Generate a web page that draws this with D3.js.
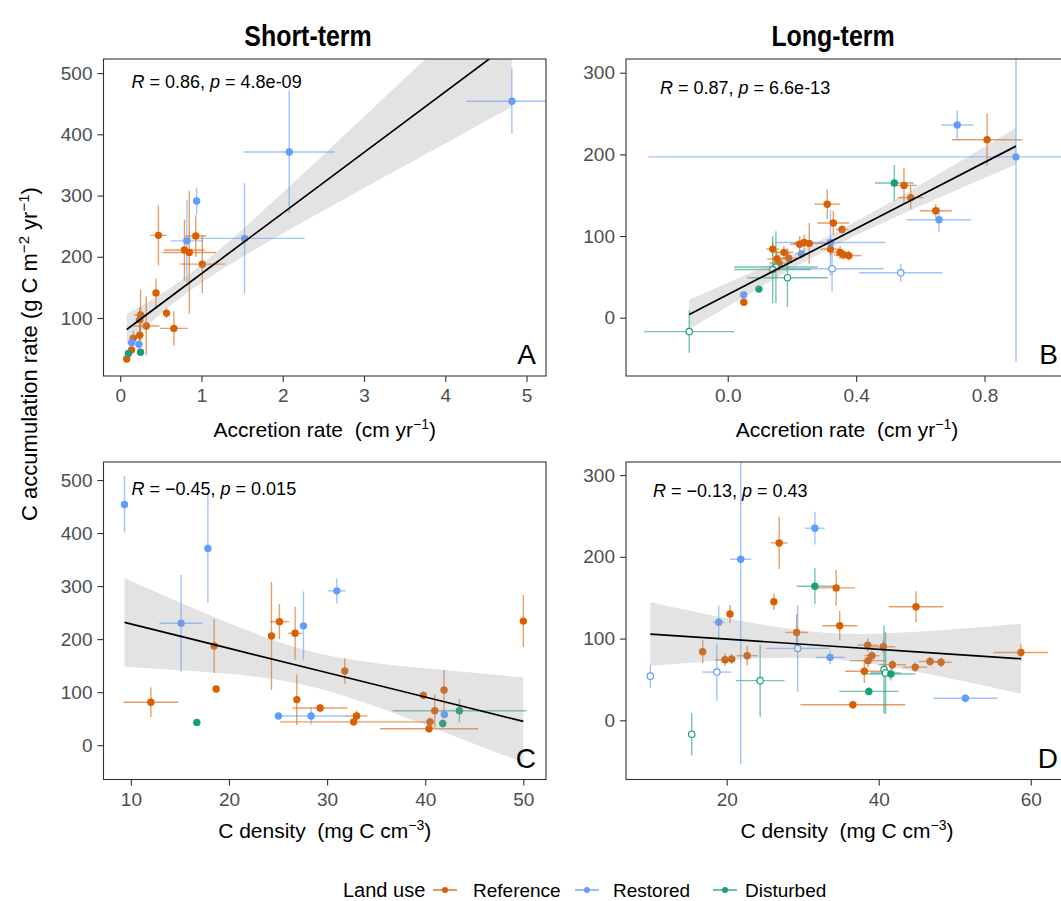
<!DOCTYPE html>
<html>
<head>
<meta charset="utf-8">
<script src="https://cdn.jsdelivr.net/npm/d3@7"></script>
<style>
  body { margin: 0; background: #fff; }
  svg { font-family: "Liberation Sans", Arial, sans-serif; }
  .pre { white-space: pre; }
</style>
</head>
<body>
<div id="chart"></div>
<script>
// Land use groups: 0 = Reference, 1 = Restored, 2 = Disturbed
const landUse = ['Reference', 'Restored', 'Disturbed'];
const landColors = ['#d95f02', '#619cff', '#1b9e77'];

// Panel A: short-term accretion rate vs C accumulation rate
const aX = [4.82, 2.08, 1.53, 0.94, 0.82, 0.47, 0.93, 0.79, 0.85, 1.01, 0.44, 0.57, 0.66, 0.25, 0.32, 0.24, 0.24, 0.16, 0.08, 0.14, 0.14, 0.23, 0.10, 0.25];
const aY = [454, 371, 230, 291, 226, 235, 234, 211, 207, 188, 141, 108, 83, 105, 87, 97, 72, 67, 33, 48, 60, 57, 42, 44];
const aXerr = [0.56, 0.56, 0.74, 0.03, 0.2, 0.1, 0.13, 0.25, 0.33, 0.28, 0.03, 0.03, 0.17, 0.08, 0.16, 0.05, 0.05, 0.04, 0.03, 0.04, 0.04, 0.03, 0.02, 0.02];
const aYerr = [53, 100, 90, 22, 67, 49, 34, 50, 100, 47, 23, 8, 28, 42, 48, 20, 15, 12, 5, 8, 10, 8, 4, 4];
const aGroup = [1, 1, 1, 1, 1, 0, 0, 0, 0, 0, 0, 0, 0, 0, 0, 0, 0, 0, 0, 0, 1, 1, 2, 2];
const aFitX = [0.08, 0.85, 2, 3.5, 4.82];
const aFitY = [81.3, 157.6, 271.4, 419.9, 550.6];
const aFitLo = [56, 143.6, 238, 348.6, 445];
const aFitHi = [107, 171.6, 304.8, 491.2, 656];

// Panel B: long-term accretion rate vs C accumulation rate
const bX = [0.715, 0.808, 0.898, 0.519, 0.549, 0.57, 0.648, 0.658, 0.31, 0.329, 0.356, 0.224, 0.238, 0.254, 0.32, 0.32, 0.35, 0.36, 0.377, 0.14, 0.175, 0.19, 0.153, 0.16, 0.23, 0.325, 0.539, 0.15, 0.14, 0.186, 0.097, 0.05, 0.05, -0.12];
const bY = [236, 218, 197, 165, 162, 147, 131, 120, 139, 116, 108, 90, 92, 91, 92, 84, 80, 77, 76, 84, 80, 73, 72, 67, 78, 60, 55, 62, 59, 49, 35, 28, 19, -17];
const bXerr = [0.05, 0.11, 1.145, 0.06, 0.04, 0.04, 0.05, 0.1, 0.04, 0.05, 0.02, 0.03, 0.03, 0.05, 0.17, 0.03, 0.03, 0.03, 0.04, 0.02, 0.03, 0.04, 0.03, 0.03, 0.02, 0.16, 0.13, 0.13, 0.12, 0.125, 0.01, 0.01, 0.01, 0.14];
const bYerr = [18, 32, 251, 22, 22, 14, 8, 15, 18, 15, 5, 10, 10, 25, 40, 8, 8, 6, 6, 8, 8, 8, 10, 10, 5, 28, 11, 44, 41, 36, 4, 4, 4, 26];
const bGroup = [1, 0, 1, 2, 0, 0, 0, 1, 0, 0, 0, 0, 0, 0, 1, 0, 0, 0, 0, 0, 0, 0, 0, 0, 1, 1, 1, 2, 2, 2, 2, 1, 0, 2];
const bOpen = [0, 0, 0, 0, 0, 0, 0, 0, 0, 0, 0, 0, 0, 0, 0, 0, 0, 0, 0, 0, 0, 0, 0, 0, 0, 1, 1, 1, 1, 1, 0, 0, 0, 1];
const bFitX = [-0.12, 0.1, 0.32, 0.6, 0.898];
const bFitY = [4, 48.5, 93.1, 149.7, 210.1];
const bFitLo = [-14, 37.1, 85.1, 136.7, 187.5];
const bFitHi = [22, 59.9, 101.1, 162.7, 232.7];

// Panel C: short-term C density vs C accumulation rate
const cX = [9.35, 17.85, 15.12, 30.99, 27.59, 50.0, 25.14, 24.33, 26.74, 18.49, 31.8, 18.69, 12.04, 26.91, 29.29, 33.0, 32.7, 39.81, 41.92, 40.97, 40.49, 40.39, 41.95, 25.04, 28.37, 43.48, 41.79, 16.72];
const cY = [454, 371, 230, 291, 225, 234, 233, 206, 211, 187, 140, 106, 81, 86, 70, 55, 44, 94, 104, 65, 44, 31, 58, 55, 55, 65, 41, 43];
const cXerr = [0, 0, 2.2, 0.9, 0.2, 0, 1.0, 0.2, 0.7, 0.2, 0.2, 0.3, 2.8, 0.3, 2.8, 1.1, 7.5, 0.3, 0.2, 0.3, 0.4, 5.0, 0.2, 0.3, 3.7, 6.8, 0.2, 0];
const cYerr = [53, 103, 91, 24, 65, 49, 33, 102, 50, 51, 24, 5, 28, 48, 8, 10, 8, 8, 38, 31, 8, 5, 5, 5, 16, 22, 8, 0];
const cGroup = [1, 1, 1, 1, 1, 0, 0, 0, 0, 0, 0, 0, 0, 0, 0, 0, 0, 0, 0, 0, 0, 0, 1, 1, 1, 2, 2, 2];
const cFitX = [9.35, 19, 29, 40, 50];
const cFitY = [231.5, 187.2, 141.3, 90.8, 44.9];
const cFitLo = [148, 136, 108, 38, -33];
const cFitHi = [315, 238, 174, 145, 128];

// Panel D: long-term C density vs C accumulation rate
const dX = [9.95, 15.4, 18.95, 18.7, 20.43, 16.84, 19.78, 20.65, 21.84, 22.7, 24.4, 26.9, 26.2, 29.2, 29.34, 31.6, 31.6, 34.4, 34.87, 33.6, 38.55, 40.6, 39.1, 38.6, 41.8, 38.1, 40.7, 40.9, 41.6, 44.8, 46.75, 48.2, 44.9, 38.7, 36.6, 51.4, 58.7];
const dY = [54, -17, 120, 59, 130, 84, 74, 75, 197, 79, 48.5, 217, 145, 107.5, 88, 235, 164, 162, 115.6, 77, 92, 90, 79, 73, 68, 60, 62, 58, 56.6, 65, 72, 71, 139, 35.4, 19, 27, 83];
const dXerr = [0.3, 0, 0.8, 1.9, 0.3, 0.3, 1.3, 0.5, 1.4, 1.4, 3.2, 1.1, 0.3, 1.5, 4.2, 1.3, 2.4, 2.5, 2.3, 1.9, 1.4, 1.6, 1.0, 2.4, 1.8, 2.5, 0.3, 2.0, 3.2, 1.6, 1.5, 1.4, 3.6, 3.9, 6.9, 4.2, 3.6];
const dYerr = [14, 26, 20, 35, 11, 14, 8, 6, 251, 12, 44, 32, 10, 22, 53, 20, 22, 22, 18, 8, 8, 8, 6, 8, 6, 14, 54, 50, 8, 6, 6, 6, 19, 5, 5, 5, 10];
const dGroup = [1, 2, 1, 1, 0, 0, 0, 0, 1, 0, 2, 0, 0, 0, 1, 1, 2, 0, 0, 1, 0, 0, 0, 0, 0, 0, 2, 2, 2, 0, 0, 0, 0, 2, 0, 1, 0];
const dOpen = [1, 1, 0, 1, 0, 0, 0, 0, 0, 0, 1, 0, 0, 0, 1, 0, 0, 0, 0, 0, 0, 0, 0, 0, 0, 0, 1, 1, 0, 0, 0, 0, 0, 0, 0, 0, 0];
const dFitX = [9.95, 21, 33, 45, 58.7];
const dFitY = [105.5, 98.7, 91.2, 83.8, 75.3];
const dFitLo = [66.5, 74.2, 75.2, 59.3, 32.5];
const dFitHi = [144.5, 123.2, 107.2, 108.3, 118.1];

// Ticks
const aXTicks = [0, 1, 2, 3, 4, 5], aYTicks = [100, 200, 300, 400, 500];
const bXTicks = [0, 0.4, 0.8], bYTicks = [0, 100, 200, 300];
const cXTicks = [10, 20, 30, 40, 50], cYTicks = [0, 100, 200, 300, 400, 500];
const dXTicks = [20, 40, 60], dYTicks = [0, 100, 200, 300];

// Stats annotations
const stats = [
    ['0.86', '4.8e-09'],
    ['0.87', '6.6e-13'],
    ['\u22120.45', '0.015'],
    ['\u22120.13', '0.43']
];

let svg = d3.select('#chart')
    .append('svg')
        .attr('width', 1061)
        .attr('height', 901);

function drawPanel(p) {
    let scX = d3.scaleLinear().domain(p.xDomain).range([p.left, p.right]);
    let scY = d3.scaleLinear().domain(p.yDomain).range([p.bottom, p.top]);

    svg.append('clipPath')
        .attr('id', 'clip-' + p.id)
      .append('rect')
        .attr('x', p.left)
        .attr('y', p.top)
        .attr('width', p.right - p.left)
        .attr('height', p.bottom - p.top);

    let plot = svg.append('g').attr('clip-path', `url(#clip-${p.id})`);

    let pts = p.x.map((x, i) => ({
        x: x, y: p.y[i], xe: p.xErr[i], ye: p.yErr[i],
        g: p.group[i], open: p.open ? p.open[i] : 0
    }));

    // Error bars
    plot.selectAll('line.xerr')
        .data(pts.filter(d => d.xe > 0))
        .enter()
        .append('line')
            .attr('x1', d => scX(d.x - d.xe))
            .attr('x2', d => scX(d.x + d.xe))
            .attr('y1', d => scY(d.y))
            .attr('y2', d => scY(d.y))
            .attr('stroke', d => landColors[d.g])
            .attr('stroke-opacity', 0.6)
            .attr('stroke-width', 1.4);
    plot.selectAll('line.yerr')
        .data(pts.filter(d => d.ye > 0))
        .enter()
        .append('line')
            .attr('x1', d => scX(d.x))
            .attr('x2', d => scX(d.x))
            .attr('y1', d => scY(d.y - d.ye))
            .attr('y2', d => scY(d.y + d.ye))
            .attr('stroke', d => landColors[d.g])
            .attr('stroke-opacity', 0.6)
            .attr('stroke-width', 1.4);

    // Points
    plot.selectAll('circle')
        .data(pts)
        .enter()
        .append('circle')
            .attr('cx', d => scX(d.x))
            .attr('cy', d => scY(d.y))
            .attr('r', d => d.open ? 3.2 : 3.7)
            .attr('fill', d => d.open ? '#fff' : landColors[d.g])
            .attr('stroke', d => d.open ? landColors[d.g] : 'none')
            .attr('stroke-width', 1.2);

    // Fit band and line
    let fit = p.fitX.map((x, i) => ({x: x, y: p.fitY[i], lo: p.fitLo[i], hi: p.fitHi[i]}));
    plot.append('path')
        .datum(fit)
        .attr('fill', '#999')
        .attr('fill-opacity', 0.28)
        .attr('d', d3.area()
            .curve(d3.curveNatural)
            .x(d => scX(d.x))
            .y0(d => scY(d.lo))
            .y1(d => scY(d.hi)));
    plot.append('path')
        .datum(fit)
        .attr('fill', 'none')
        .attr('stroke', '#000')
        .attr('stroke-width', 1.7)
        .attr('d', d3.line()
            .x(d => scX(d.x))
            .y(d => scY(d.y)));

    // Axes
    let xAxis = d3.axisBottom(scX)
        .tickValues(p.xTicks)
        .tickSize(6)
        .tickPadding(7)
        .tickFormat(p.xFormat || d3.format('d'));
    let yAxis = d3.axisLeft(scY)
        .tickValues(p.yTicks)
        .tickSize(6)
        .tickPadding(5)
        .tickFormat(d3.format('d'));
    [svg.append('g').attr('transform', `translate(0,${p.bottom})`).call(xAxis),
     svg.append('g').attr('transform', `translate(${p.left},0)`).call(yAxis)]
        .forEach(ax => {
            ax.select('.domain').remove();
            ax.selectAll('.tick line').attr('stroke', '#333').attr('stroke-width', 1.1);
            ax.selectAll('.tick text')
                .attr('fill', '#4d4d4d')
                .attr('font-size', 19)
                .attr('font-family', '"Liberation Sans", Arial, sans-serif');
        });

    // Panel border
    svg.append('rect')
        .attr('x', p.left)
        .attr('y', p.top)
        .attr('width', p.right - p.left)
        .attr('height', p.bottom - p.top)
        .attr('fill', 'none')
        .attr('stroke', '#333')
        .attr('stroke-width', 1.1);

    // R / p annotation
    let ann = svg.append('text')
        .attr('class', 'pre')
        .attr('x', p.left + p.annDx)
        .attr('y', p.top + p.annDy)
        .attr('font-size', 18);
    ann.append('tspan').attr('font-style', 'italic').text('R');
    ann.append('tspan').text(` = ${p.stat[0]}, `);
    ann.append('tspan').attr('font-style', 'italic').text('p');
    ann.append('tspan').text(` = ${p.stat[1]}`);

    // Panel letter
    svg.append('text')
        .attr('x', p.right - 10)
        .attr('y', p.bottom - 12)
        .attr('text-anchor', 'end')
        .attr('font-size', 28)
        .text(p.id);
}

let colL = 103.5, colR = 546, col2L = 626, col2R = 1068;
let rowT = 59, rowB = 376, row2T = 462, row2B = 779.5;

drawPanel({id: 'A', left: colL, right: colR, top: rowT, bottom: rowB,
    xDomain: [-0.206, 5.24], yDomain: [5.3, 523],
    x: aX, y: aY, xErr: aXerr, yErr: aYerr, group: aGroup,
    fitX: aFitX, fitY: aFitY, fitLo: aFitLo, fitHi: aFitHi,
    xTicks: aXTicks, yTicks: aYTicks, stat: stats[0], annDx: 28, annDy: 29});
drawPanel({id: 'B', left: col2L, right: col2R, top: rowT, bottom: rowB,
    xDomain: [-0.317, 1.06], yDomain: [-71.4, 316.8],
    x: bX, y: bY, xErr: bXerr, yErr: bYerr, group: bGroup, open: bOpen,
    fitX: bFitX, fitY: bFitY, fitLo: bFitLo, fitHi: bFitHi,
    xTicks: bXTicks, yTicks: bYTicks, xFormat: d3.format('.1f'), stat: stats[1], annDx: 34, annDy: 35});
drawPanel({id: 'C', left: colL, right: colR, top: row2T, bottom: row2B,
    xDomain: [7.21, 52.31], yDomain: [-64.7, 534],
    x: cX, y: cY, xErr: cXerr, yErr: cYerr, group: cGroup,
    fitX: cFitX, fitY: cFitY, fitLo: cFitLo, fitHi: cFitHi,
    xTicks: cXTicks, yTicks: cYTicks, stat: stats[2], annDx: 28, annDy: 33});
drawPanel({id: 'D', left: col2L, right: col2R, top: row2T, bottom: row2B,
    xDomain: [6.75, 64.9], yDomain: [-72.4, 316],
    x: dX, y: dY, xErr: dXerr, yErr: dYerr, group: dGroup, open: dOpen,
    fitX: dFitX, fitY: dFitY, fitLo: dFitLo, fitHi: dFitHi,
    xTicks: dXTicks, yTicks: dYTicks, stat: stats[3], annDx: 27, annDy: 35});

// Column titles (narrow bold look)
svg.selectAll('text.col-title')
    .data([['Short-term', 308], ['Long-term', 833]])
    .enter()
    .append('text')
        .attr('class', 'col-title')
        .attr('transform', d => `translate(${d[1]},46) scale(0.86,1)`)
        .attr('text-anchor', 'middle')
        .attr('font-weight', 'bold')
        .attr('font-size', 29)
        .text(d => d[0]);

// Axis titles with superscripts
function unitTitle(sel, main, unitPre, sup) {
    sel.append('tspan').text(main + '  (' + unitPre);
    sel.append('tspan').attr('font-size', 14).attr('dy', -8).text(sup);
    sel.append('tspan').attr('dy', 8).text(')');
}
[[(colL + colR) / 2, 437], [(col2L + col2R) / 2, 437]].forEach(pos => {
    let t = svg.append('text').attr('class', 'pre')
        .attr('x', pos[0]).attr('y', pos[1])
        .attr('text-anchor', 'middle').attr('font-size', 21);
    unitTitle(t, 'Accretion rate', 'cm yr', '\u22121');
});
[[(colL + colR) / 2, 838], [(col2L + col2R) / 2, 838]].forEach(pos => {
    let t = svg.append('text').attr('class', 'pre')
        .attr('x', pos[0]).attr('y', pos[1])
        .attr('text-anchor', 'middle').attr('font-size', 21);
    unitTitle(t, 'C density', 'mg C cm', '\u22123');
});

// Y title
let yt = svg.append('text').attr('class', 'pre')
    .attr('transform', 'translate(37,354) rotate(-90)')
    .attr('text-anchor', 'middle')
    .attr('font-size', 22);
yt.append('tspan').text('C accumulation rate (g C m');
yt.append('tspan').attr('font-size', 15).attr('dy', -8).text('\u22122');
yt.append('tspan').attr('dy', 8).text(' yr');
yt.append('tspan').attr('font-size', 15).attr('dy', -8).text('\u22121');
yt.append('tspan').attr('dy', 8).text(')');

// Legend
let legend = svg.append('g');
legend.append('text')
    .attr('x', 343)
    .attr('y', 897)
    .attr('font-size', 20)
    .text('Land use');
let keyX = [433, 575, 713];
let labX = [473, 613, 745];
landUse.forEach((name, i) => {
    legend.append('line')
        .attr('x1', keyX[i]).attr('x2', keyX[i] + 24)
        .attr('y1', 890).attr('y2', 890)
        .attr('stroke', landColors[i]).attr('stroke-width', 1.3);
    legend.append('circle')
        .attr('cx', keyX[i] + 12).attr('cy', 890).attr('r', 3)
        .attr('fill', landColors[i]);
    legend.append('text')
        .attr('x', labX[i]).attr('y', 897)
        .attr('font-size', 19)
        .text(name);
});
</script>
</body>
</html>
